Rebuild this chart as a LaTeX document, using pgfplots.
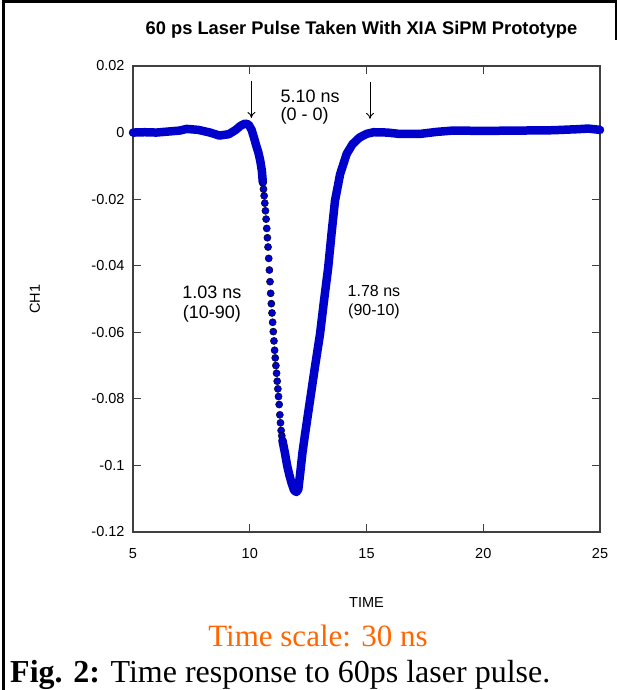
\documentclass[border=0pt]{standalone}
\usepackage{pgfplots}
\pgfplotsset{compat=1.18}
\usepackage{fontspec}
\setmainfont{Liberation Sans}
\newfontfamily\timesfont{Liberation Serif}
\usetikzlibrary{arrows.meta}
\definecolor{pulseblue}{RGB}{0,0,204}
\definecolor{capor}{RGB}{255,102,0}
\definecolor{axgray}{RGB}{64,64,64}

% scope trace (time in ns, CH1)
\pgfplotstableread{
x y
5.00 0.0000
5.50 0.0001
6.00 0.0000
6.50 0.0003
7.00 0.0006
7.30 0.0011
7.80 0.0008
8.30 0.0000
8.70 -0.0009
9.10 -0.0005
9.40 0.0008
9.60 0.0020
9.80 0.0027
9.95 0.0024
10.08 0.0008
10.18 -0.0015
10.28 -0.0040
10.37 -0.0060
10.45 -0.0085
10.52 -0.0115
10.56 -0.0150
}\leading
\pgfplotstableread{
x y
11.40 -0.0925
11.50 -0.0960
11.60 -0.1000
11.70 -0.1030
11.80 -0.1055
11.90 -0.1075
12.00 -0.1080
12.08 -0.1072
12.15 -0.1030
12.26 -0.0960
12.37 -0.0905
12.58 -0.0805
12.79 -0.0705
13.01 -0.0605
13.18 -0.0505
13.36 -0.0405
13.50 -0.0305
13.65 -0.0205
13.87 -0.0125
14.15 -0.0064
14.40 -0.0035
14.70 -0.0015
15.00 -0.0004
15.30 0.0001
15.90 0.0000
16.40 -0.0004
17.30 -0.0004
18.00 0.0002
18.70 0.0006
20.00 0.0005
21.60 0.0006
23.00 0.0007
24.00 0.0010
24.50 0.0012
25.00 0.0008
}\trailing
% separate samples on the steep leading edge
\pgfplotstableread{
x y
10.560 -0.0150
10.588 -0.0170
10.616 -0.0190
10.644 -0.0212
10.672 -0.0235
10.700 -0.0260
10.728 -0.0288
10.756 -0.0316
10.784 -0.0344
10.812 -0.0378
10.840 -0.0413
10.868 -0.0448
10.896 -0.0483
10.924 -0.0514
10.952 -0.0542
10.980 -0.0570
11.008 -0.0598
11.036 -0.0626
11.064 -0.0654
11.092 -0.0677
11.120 -0.0700
11.148 -0.0723
11.176 -0.0747
11.204 -0.0770
11.232 -0.0793
11.260 -0.0817
11.288 -0.0848
11.316 -0.0872
11.344 -0.0895
11.372 -0.0911
11.400 -0.0925
}\edge

\begin{document}
\begin{tikzpicture}[x=1bp,y=1bp]
\path[use as bounding box] (0,0) rectangle (621,690);
\draw[line width=3bp] (3,0) -- (3,688.5) -- (617,688.5);
\draw[line width=2bp] (616,688.5) -- (616,650);

\begin{axis}[at={(133bp,158bp)}, anchor=south west,
 scale only axis, width=467bp, height=466bp,
 xmin=5, xmax=25, ymin=-0.12, ymax=0.02,
 xtick={5,10,15,20,25},
 ytick={0.02,0,-0.02,-0.04,-0.06,-0.08,-0.1,-0.12},
 yticklabels={0.02,0,-0.02,-0.04,-0.06,-0.08,-0.1,-0.12},
 tick align=inside, major tick length=8bp,
 tick style={axgray,line width=1bp},
 axis line style={axgray,line width=1.3bp},
 ticklabel style={font=\fontsize{14.5bp}{16bp}\selectfont},
 /pgf/number format/assume math mode=true,
 xticklabel style={yshift=-13bp},
 yticklabel style={xshift=-5bp},
 title={60 ps Laser Pulse Taken With XIA SiPM Prototype},
 title style={font=\bfseries\fontsize{18.3bp}{21bp}\selectfont,
   at={(rel axis cs:0.5,1)}, anchor=center, yshift=30bp, xshift=-5bp},
 xlabel={TIME},
 xlabel style={font=\fontsize{14.5bp}{16bp}\selectfont,
   at={(rel axis cs:0.5,0)}, anchor=center, yshift=-71bp},
 ylabel={CH1},
 ylabel style={font=\fontsize{14.5bp}{16bp}\selectfont,
   at={(rel axis cs:0,0.5)}, anchor=center, rotate=0, yshift=98bp},
 clip=false]
\addplot[pulseblue, line width=8.5bp, line cap=round, line join=round] table {\leading};
\addplot[pulseblue, line width=8.5bp, line cap=round, line join=round] table {\trailing};
\addplot[only marks, mark=*, mark size=3.6bp, mark options={draw=none, fill=pulseblue}] table {\edge};

\draw[-{To[length=6bp,width=8bp]}, line width=0.9bp] (axis cs:10.07,0.0156) -- (axis cs:10.07,0.0044);
\draw[-{To[length=6bp,width=8bp]}, line width=0.9bp] (axis cs:15.15,0.0153) -- (axis cs:15.15,0.0041);
\node[align=left, anchor=west, font=\fontsize{18bp}{18bp}\selectfont] at (axis cs:11.17,0.0078) {5.10 ns\\(0 - 0)};
\node[align=center, font=\fontsize{18bp}{20bp}\selectfont] at (axis cs:8.38,-0.0514) {1.03 ns\\(10-90)};
\node[align=center, font=\fontsize{16bp}{19bp}\selectfont] at (axis cs:15.32,-0.0509) {1.78 ns\\(90-10)};
\end{axis}

\node[font=\timesfont\fontsize{31bp}{33bp}\selectfont, text=capor] at (318,54) {Time scale: 30 ns};
\node[anchor=base west, inner sep=0pt, font=\timesfont\fontsize{32bp}{34bp}\selectfont] at (10,7) {\textbf{Fig. 2:} Time response to 60ps laser pulse.};
\end{tikzpicture}
\end{document}
